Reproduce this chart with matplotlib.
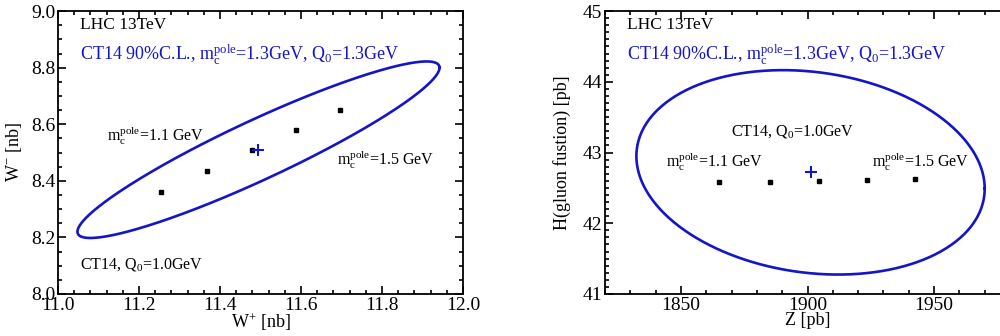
import numpy as np
import matplotlib
matplotlib.use("Agg")
import matplotlib.pyplot as plt
from matplotlib.ticker import MultipleLocator, FormatStrFormatter

plt.rcParams["font.family"] = ["Liberation Serif", "DejaVu Serif"]
plt.rcParams["mathtext.fontset"] = "custom"
plt.rcParams["mathtext.rm"] = "Liberation Serif"
plt.rcParams["mathtext.it"] = "Liberation Serif:italic"

# ---- W+ / W- panel ----
w_plus = [11.255, 11.368, 11.478, 11.587, 11.697]
w_minus = [8.360, 8.435, 8.508, 8.580, 8.652]
w_center = (11.495, 8.508)
# ellipse: x = cx + dx cos t, y = cy + dy cos(t - phi)
w_ell = dict(cx=11.495, cy=8.510, dx=0.447, dy=0.312, phi=0.38)

# ---- Z / H panel ----
z_xs = [1865.0, 1885.0, 1904.5, 1923.5, 1942.5]
h_ys = [42.59, 42.59, 42.60, 42.61, 42.63]
zh_center = (1901.5, 42.72)
zh_ell = dict(cx=1901.2, cy=42.72, dx=68.8, dy=1.445, phi=1.73)

BLUE = "#1414c8"
CL_TEXT = r"CT14 90%C.L., $\mathrm{m_c^{pole}}$=1.3GeV, $\mathrm{Q_0}$=1.3GeV"
M11 = r"$\mathrm{m_c^{pole}}$=1.1 GeV"
M15 = r"$\mathrm{m_c^{pole}}$=1.5 GeV"
Q10 = r"CT14, $\mathrm{Q_0}$=1.0GeV"


def ellipse(p, n=400):
    t = np.linspace(0, 2 * np.pi, n)
    return p["cx"] + p["dx"] * np.cos(t), p["cy"] + p["dy"] * np.cos(t - p["phi"])


def style(ax):
    ax.tick_params(which="both", direction="in", top=True, right=True,
                   labelsize=14, width=1.2, colors="black", pad=2)
    ax.tick_params(which="major", length=6)
    ax.tick_params(which="minor", length=3)
    for s in ax.spines.values():
        s.set_linewidth(1.3)


fig = plt.figure(figsize=(10, 3.36), dpi=100)
ax1 = fig.add_axes([0.058, 0.125, 0.405, 0.842])
ax2 = fig.add_axes([0.605, 0.125, 0.405, 0.842])

# left
ex, ey = ellipse(w_ell)
ax1.plot(ex, ey, color=BLUE, lw=1.9)
ax1.plot(w_plus, w_minus, "s", color="black", ms=3)
ax1.plot(*w_center, "+", color=BLUE, ms=8, mew=1.5)
ax1.set_xlim(11.0, 12.0)
ax1.set_ylim(8.0, 9.0)
ax1.xaxis.set_major_locator(MultipleLocator(0.2))
ax1.xaxis.set_minor_locator(MultipleLocator(0.04))
ax1.yaxis.set_major_locator(MultipleLocator(0.2))
ax1.yaxis.set_minor_locator(MultipleLocator(0.05))
ax1.xaxis.set_major_formatter(FormatStrFormatter("%.1f"))
ax1.yaxis.set_major_formatter(FormatStrFormatter("%.1f"))
style(ax1)
ax1.set_xlabel(r"W$^{+}$ [nb]", fontsize=13, labelpad=-2)
ax1.set_ylabel(r"W$^{-}$ [nb]", fontsize=13, labelpad=5)
ax1.text(0.054, 0.98, "LHC 13TeV", transform=ax1.transAxes, fontsize=12.5, va="top")
ax1.text(0.054, 0.89, CL_TEXT, transform=ax1.transAxes, fontsize=13, va="top", color=BLUE)
ax1.text(0.12, 0.60, M11, transform=ax1.transAxes, fontsize=11.5, va="top")
ax1.text(0.69, 0.515, M15, transform=ax1.transAxes, fontsize=11.5, va="top")
ax1.text(0.054, 0.135, Q10, transform=ax1.transAxes, fontsize=11.5, va="top")

# right
ex, ey = ellipse(zh_ell)
ax2.plot(ex, ey, color=BLUE, lw=1.9)
ax2.plot(z_xs, h_ys, "s", color="black", ms=3)
ax2.plot(*zh_center, "+", color=BLUE, ms=8, mew=1.5)
ax2.set_xlim(1820, 1980)
ax2.set_ylim(41, 45)
ax2.xaxis.set_major_locator(MultipleLocator(50))
ax2.xaxis.set_minor_locator(MultipleLocator(10))
ax2.yaxis.set_major_locator(MultipleLocator(1))
ax2.yaxis.set_minor_locator(MultipleLocator(0.1))
style(ax2)
ax2.set_xlabel("Z [pb]", fontsize=13, labelpad=-1)
ax2.set_ylabel("H(gluon fustion) [pb]", fontsize=13, labelpad=8)
ax2.text(0.054, 0.98, "LHC 13TeV", transform=ax2.transAxes, fontsize=12.5, va="top")
ax2.text(0.054, 0.89, CL_TEXT, transform=ax2.transAxes, fontsize=13, va="top", color=BLUE)
ax2.text(0.31, 0.605, Q10, transform=ax2.transAxes, fontsize=11.5, va="top")
ax2.text(0.15, 0.51, M11, transform=ax2.transAxes, fontsize=11.5, va="top")
ax2.text(0.66, 0.51, M15, transform=ax2.transAxes, fontsize=11.5, va="top")

fig.savefig("out.png", dpi=100)
